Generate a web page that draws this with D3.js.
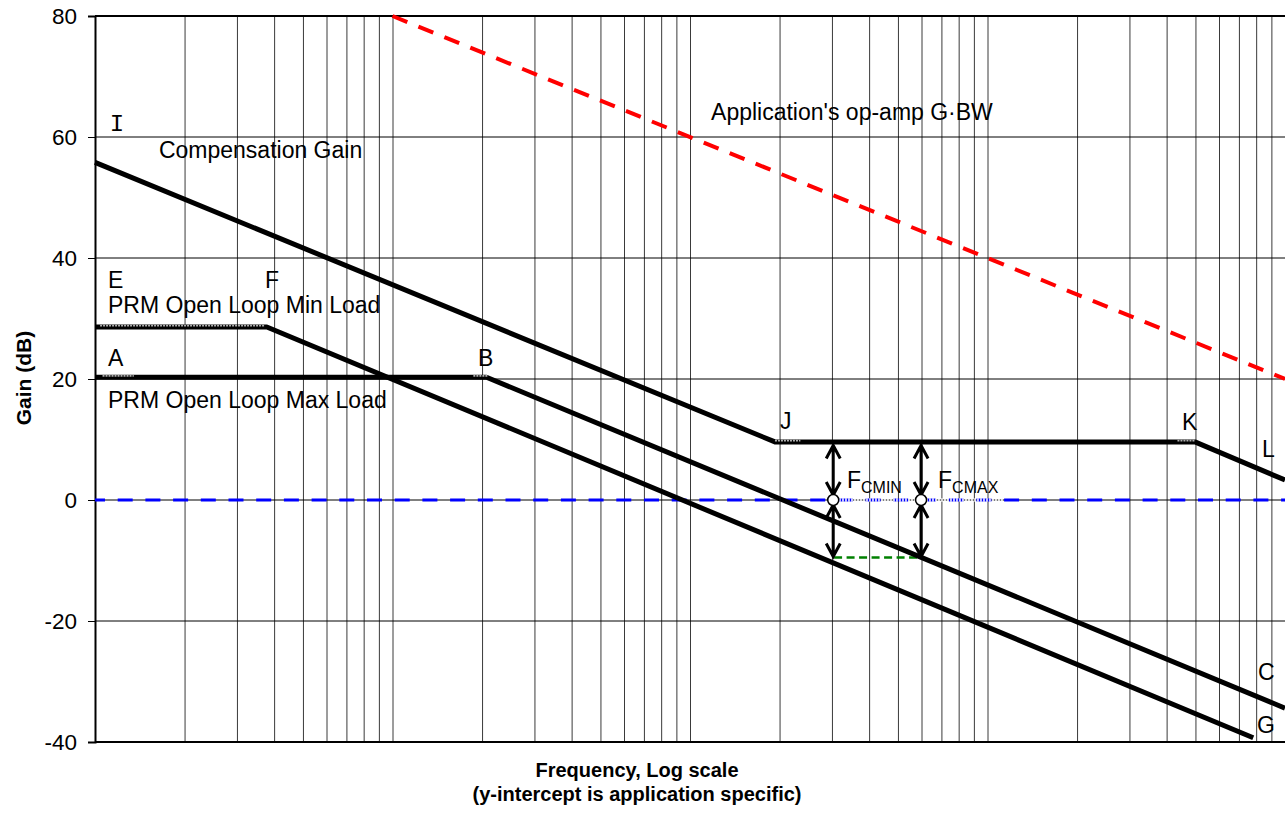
<!DOCTYPE html>
<html>
<head>
<meta charset="utf-8">
<script src="https://cdn.jsdelivr.net/npm/d3@7"></script>
<style>
  body { margin: 0; background: #fff; }
  svg { display: block; font-family: "Liberation Sans", Arial, sans-serif; }
  .note { font-size: 23px; fill: #000; }
  .axisTitle { font-size: 20px; font-weight: bold; }
</style>
</head>
<body>
<div id="chart"></div>
<script>
// Data (frequency is relative, dB values)
const yTicks = [-40, -20, 0, 20, 40, 60, 80];
const compGain = [[1, 55.8], [193, 9.6], [4980, 9.6], [10000, 3.3]];
const minLoad = [[1, 28.6], [3.78, 28.6], [7820, -39.3]];
const maxLoad = [[1, 20.3], [20.7, 20.3], [10000, -34.4]];
const opampGbw = [[10, 80], [10000, 20]];
const zeroDb = [[1, 0], [10000, 0]];
const marginLine = [[305, -9.5], [600, -9.5]];
const fcFreqs = [303, 598];
const arrowLevels = [9.6, 0, -9.5];

// grey point-marker remnants on the corners [from freq, to freq, dB]
const markerSpans = [
  [1.04, 3.72, 28.6],
  [1.06, 1.35, 20.3],
  [18.7, 20.9, 20.3],
  [193, 235, 9.6],
  [4350, 4980, 9.6]
];

// text annotations anchored in data units [freq, dB, text]
const notes = [
  [1.64, 56.5, "Compensation Gain"],
  [117.7, 62.8, "Application's op-amp G\u00B7BW"],
  [1.106, 35.0, "E"],
  [3.73, 35.0, "F"],
  [1.106, 30.9, "PRM Open Loop Min Load"],
  [1.106, 22.15, "A"],
  [19.4, 22.15, "B"],
  [1.106, 15.2, "PRM Open Loop Max Load"],
  [200.7, 11.74, "J"],
  [4506, 11.57, "K"],
  [8370, 7.1, "L"],
  [8114, -29.75, "C"],
  [8052, -38.5, "G"]
];
const fcNotes = [[337, 2.0, "CMIN"], [682, 2.0, "CMAX"]];

// Global constants
const W = 1285, H = 815;
const margin = { top: 16, right: 0, bottom: 73, left: 95 };

const x = d3.scaleLog().domain([1, 10000]).range([margin.left, W - margin.right]);
const y = d3.scaleLinear().domain([-40, 80]).range([H - margin.bottom, margin.top]);

const svg = d3.select("#chart").append("svg")
  .attr("width", W)
  .attr("height", H);

// vertical log grid
svg.append("g")
  .attr("transform", "translate(0," + y(-40) + ")")
  .call(d3.axisBottom(x).tickSize(-(y(-40) - y(80))).tickFormat(""))
  .call(g => g.select(".domain").remove())
  .call(g => g.selectAll(".tick line").attr("stroke", "#3a3a3a").attr("stroke-width", 1));

// horizontal grid
svg.append("g")
  .selectAll("line")
  .data(yTicks)
  .enter().append("line")
    .attr("x1", x(1)).attr("x2", x(10000))
    .attr("y1", d => y(d)).attr("y2", d => y(d))
    .attr("stroke", "#000")
    .attr("stroke-width", d => (d === 80 || d === -40) ? 2 : 1);

// y axis
svg.append("g")
  .attr("transform", "translate(" + x(1) + ",0)")
  .call(d3.axisLeft(y).tickValues(yTicks).tickSize(7).tickPadding(11).tickFormat(d => String(d)))
  .call(g => g.select(".domain").attr("stroke-width", 2))
  .call(g => g.selectAll(".tick text")
    .attr("font-size", "22.5px")
    .attr("font-family", "'Liberation Sans', Arial, sans-serif")
    .attr("fill", "#000"));

// axis titles
svg.append("text")
  .attr("class", "axisTitle")
  .attr("transform", "translate(31," + 378 + ") rotate(-90)")
  .style("font-size", "21px")
  .style("text-anchor", "middle")
  .text("Gain (dB)");

svg.append("text")
  .attr("class", "axisTitle")
  .attr("x", 637).attr("y", 777)
  .style("text-anchor", "middle")
  .text("Frequency, Log scale");

svg.append("text")
  .attr("class", "axisTitle")
  .attr("x", 637).attr("y", 801)
  .style("text-anchor", "middle")
  .text("(y-intercept is application specific)");

const line = d3.line().x(d => x(d[0])).y(d => y(d[1]));

// 0 dB crossover line
svg.append("path")
  .attr("d", line(zeroDb))
  .attr("fill", "none")
  .attr("stroke", "#0000ff")
  .attr("stroke-width", 3)
  .attr("stroke-dasharray", "15,12.7")
  .attr("stroke-dashoffset", 5);

// lighter hatched section of the 0 dB line between the crossover markers
svg.append("line")
  .attr("x1", x(fcFreqs[0]) + 6).attr("x2", x(1130))
  .attr("y1", y(0)).attr("y2", y(0))
  .attr("stroke", "#ffffff")
  .attr("stroke-width", 3.5)
  .attr("stroke-dasharray", "1.5,1.5");

// phase margin marker (green)
svg.append("path")
  .attr("d", line(marginLine))
  .attr("fill", "none")
  .attr("stroke", "#008000")
  .attr("stroke-width", 2.5)
  .attr("stroke-dasharray", "8,4.5");

// op-amp gain-bandwidth
svg.append("path")
  .attr("d", line(opampGbw))
  .attr("fill", "none")
  .attr("stroke", "#ff0000")
  .attr("stroke-width", 4)
  .attr("stroke-dasharray", "16,12");

// the three gain curves
[compGain, minLoad, maxLoad].forEach(s => {
  svg.append("path")
    .attr("d", line(s))
    .attr("fill", "none")
    .attr("stroke", "#000")
    .attr("stroke-width", 5)
    .attr("stroke-linejoin", "round");
});

// grey marker remnants on top half of the corner segments
svg.selectAll(".mark")
  .data(markerSpans)
  .enter().append("line")
    .attr("class", "mark")
    .attr("x1", d => x(d[0])).attr("x2", d => x(d[1]))
    .attr("y1", d => y(d[2]) - 1.3).attr("y2", d => y(d[2]) - 1.3)
    .attr("stroke", "#b0b0b0")
    .attr("stroke-width", 1.6)
    .attr("stroke-dasharray", "2,1");

// double headed arrows at Fc min / max
const head = 13, half = 7;
fcFreqs.forEach(f => {
  const cx = x(f);
  for (let i = 0; i < arrowLevels.length - 1; i++) {
    const top = y(arrowLevels[i]) + (i === 0 ? 3.5 : 5);
    const bot = y(arrowLevels[i + 1]) - (i === 0 ? 5 : 1);
    const p = "M" + cx + "," + top + "L" + cx + "," + bot +
      "M" + (cx - half) + "," + (top + head) + "L" + cx + "," + top + "L" + (cx + half) + "," + (top + head) +
      "M" + (cx - half) + "," + (bot - head) + "L" + cx + "," + bot + "L" + (cx + half) + "," + (bot - head);
    svg.append("path")
      .attr("d", p)
      .attr("fill", "none")
      .attr("stroke", "#000")
      .attr("stroke-width", 3);
  }
  svg.append("circle")
    .attr("cx", cx).attr("cy", y(0))
    .attr("r", 5.5)
    .attr("fill", "#fff")
    .attr("stroke", "#000")
    .attr("stroke-width", 1.5);
});

// labels
svg.append("text")
  .attr("x", x(1.12)).attr("y", y(61))
  .style("font-family", "'Liberation Mono', monospace")
  .style("font-size", "24px")
  .text("I");

svg.selectAll(".note")
  .data(notes)
  .enter().append("text")
    .attr("class", "note")
    .attr("x", d => x(d[0]))
    .attr("y", d => y(d[1]))
    .text(d => d[2]);

fcNotes.forEach(d => {
  const t = svg.append("text")
    .attr("class", "note")
    .attr("x", x(d[0]))
    .attr("y", y(d[1]));
  t.append("tspan").text("F");
  t.append("tspan").attr("dy", 5).style("font-size", "16px").text(d[2]);
});
</script>
</body>
</html>
